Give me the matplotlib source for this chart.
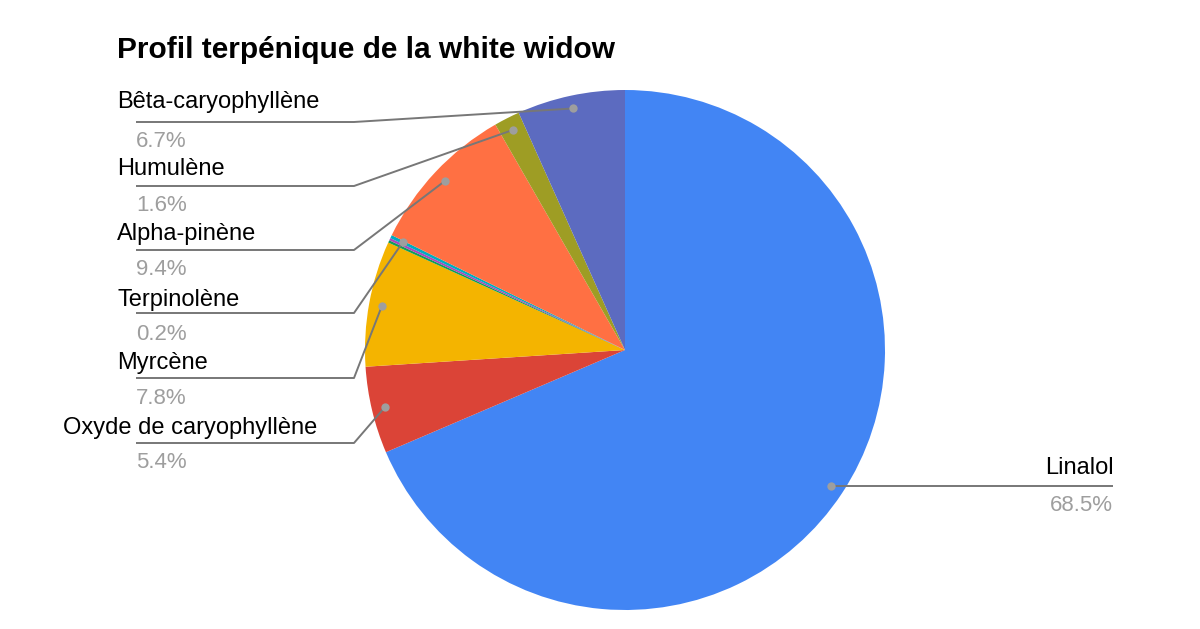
import numpy as np
import matplotlib
matplotlib.use("Agg")
import matplotlib.pyplot as plt

# ---- data ----
categories = ["Linalol", "Oxyde de caryophyllène", "Myrcène", "(non étiqueté 1)",
              "(non étiqueté 2)", "Terpinolène", "Alpha-pinène", "Humulène",
              "Bêta-caryophyllène"]
values = [68.5, 5.4, 7.8, 0.15, 0.15, 0.2, 9.4, 1.6, 6.7]
pct_labels = ["68.5%", "5.4%", "7.8%", None, None, "0.2%", "9.4%", "1.6%", "6.7%"]
colors = ["#4285F4", "#DB4437", "#F4B400", "#0F9D58", "#AB47BC", "#00ACC1",
          "#FF7043", "#9E9D24", "#5C6BC0"]
title = "Profil terpénique de la white widow"

plt.rcParams['font.family'] = ['Liberation Sans', 'DejaVu Sans']

W, H = 1200, 629
fig = plt.figure(figsize=(W / 100, H / 100), dpi=100)
ax = fig.add_axes([0, 0, 1, 1])
ax.set_xlim(0, W)
ax.set_ylim(0, H)
ax.set_aspect('equal')
ax.axis('off')

def Y(y):  # pixel row -> data y
    return H - y

cx, cy, R = 625, 350, 260
ax.pie(values, colors=colors, startangle=90, counterclock=False,
       center=(cx, Y(cy)), radius=R, wedgeprops=dict(linewidth=0))
ax.set_xlim(0, W)
ax.set_ylim(0, H)

vals = np.array(values, dtype=float)
frac = vals / vals.sum()
cum = np.cumsum(frac)
mid = cum - frac / 2
theta = 2 * np.pi * mid
dot_x = cx + 0.95 * R * np.sin(theta)
dot_y = Y(cy) + 0.95 * R * np.cos(theta)

line_col = "#777777"
dot_col = "#9E9E9E"
pct_col = "#9E9E9E"
name_fs = 17
pct_fs = 16

# layout for left-side labels: (index, line row, name baseline, pct baseline, name x)
left_layout = {
    8: (122, 108, 147, 117),
    7: (186, 175, 211, 117),
    6: (250, 240, 275, 117),
    5: (313, 306, 340, 117),
    2: (378, 369, 404, 117),
    1: (443, 434, 468, 63),
}
for i, (ly, nb, pb, nx) in left_layout.items():
    ax.plot([136, 354, dot_x[i]], [Y(ly), Y(ly), dot_y[i]], color=line_col,
            lw=1.4, solid_capstyle='butt', zorder=3)
    ax.plot(dot_x[i], dot_y[i], 'o', color=dot_col, ms=6, zorder=4, mec='none')
    ax.text(nx, Y(nb), categories[i], fontsize=name_fs, color='black',
            ha='left', va='baseline')
    ax.text(136, Y(pb), pct_labels[i], fontsize=pct_fs, color=pct_col,
            ha='left', va='baseline')

# Linalol (right side)
i = 0
ax.plot([dot_x[i], 1113], [dot_y[i], dot_y[i]], color=line_col, lw=1.4,
        solid_capstyle='butt', zorder=3)
ax.plot(dot_x[i], dot_y[i], 'o', color=dot_col, ms=6, zorder=4, mec='none')
ax.text(1114, dot_y[i] + 12.5, categories[i], fontsize=name_fs, color='black',
        ha='right', va='baseline')
ax.text(1113, dot_y[i] - 25, pct_labels[i], fontsize=pct_fs, color=pct_col,
        ha='right', va='baseline')

ax.text(117, Y(57.7), title, fontsize=21.5, fontweight='bold', color='black',
        ha='left', va='baseline')

fig.savefig("out.png", dpi=100)
